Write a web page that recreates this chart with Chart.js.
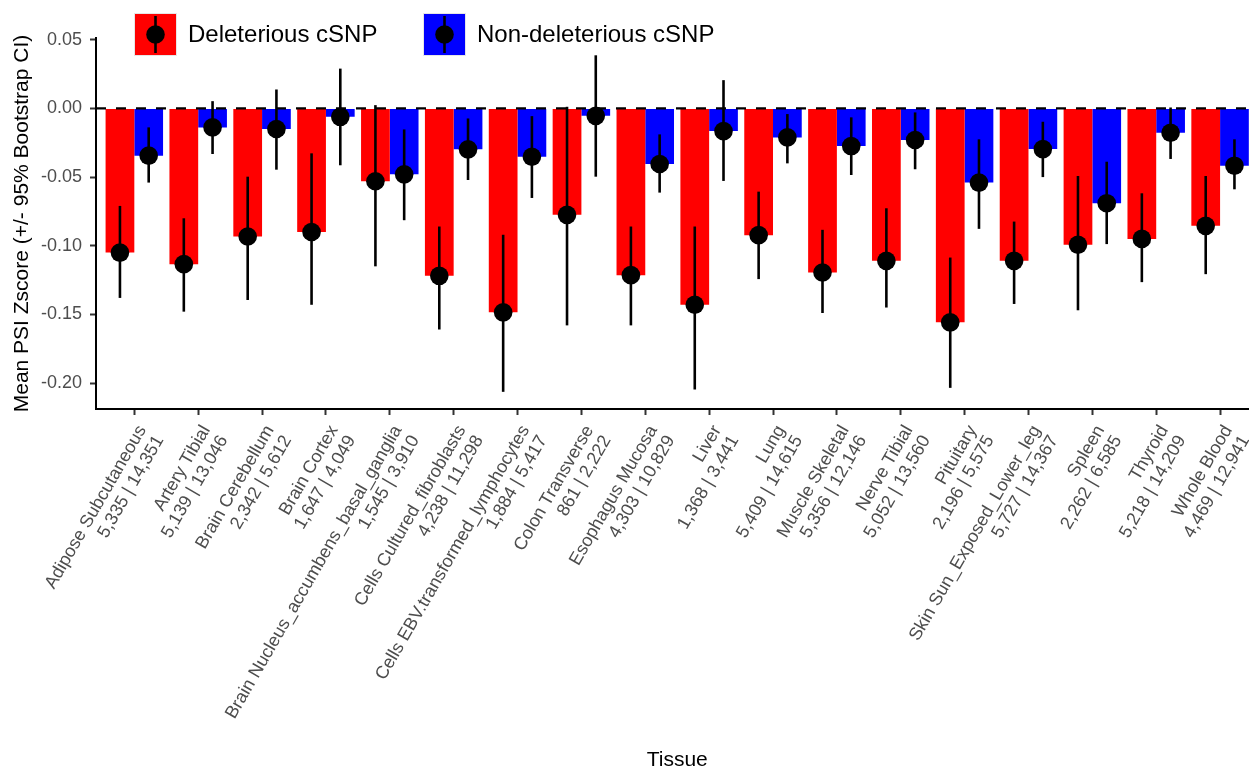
<!DOCTYPE html>
<html>
<head>
<meta charset="utf-8">
<script src="https://cdn.jsdelivr.net/npm/chart.js@4"></script>
<style>
  html, body { margin: 0; padding: 0; background: #fff; }
  #wrap { width: 1249px; height: 769px; overflow: hidden; position: relative; }
  #psiChart { display: block; }
</style>
</head>
<body>
<div id="wrap"><canvas id="psiChart" width="1262" height="769" style="width:1262px;height:769px"></canvas></div>
<script>
// tissues and cSNP counts (deleterious | non-deleterious)
const tissues = [
  'Adipose Subcutaneous', 'Artery Tibial', 'Brain Cerebellum', 'Brain Cortex',
  'Brain Nucleus_accumbens_basal_ganglia', 'Cells Cultured_fibroblasts',
  'Cells EBV.transformed_lymphocytes', 'Colon Transverse', 'Esophagus Mucosa',
  'Liver', 'Lung', 'Muscle Skeletal', 'Nerve Tibial', 'Pituitary',
  'Skin Sun_Exposed_Lower_leg', 'Spleen', 'Thyroid', 'Whole Blood'
]
const delCounts = [5335, 5139, 2342, 1647, 1545, 4238, 1884, 861, 4303, 1368, 5409, 5356, 5052, 2196, 5727, 2262, 5218, 4469]
const nonDelCounts = [14351, 13046, 5612, 4049, 3910, 11298, 5417, 2222, 10829, 3441, 14615, 12146, 13560, 5575, 14367, 6585, 14209, 12941]

// mean PSI z-score with bootstrap 95% CI
const delMean = [-0.105, -0.1134, -0.0933, -0.090, -0.053, -0.1219, -0.1485, -0.0775, -0.1214, -0.143, -0.0923, -0.1195, -0.111, -0.1558, -0.111, -0.0993, -0.095, -0.0855]
const delLow = [-0.138, -0.148, -0.1395, -0.143, -0.115, -0.161, -0.2064, -0.158, -0.158, -0.2047, -0.1243, -0.149, -0.145, -0.2035, -0.1424, -0.147, -0.1265, -0.1207]
const delHigh = [-0.071, -0.080, -0.0497, -0.0327, 0.0024, -0.086, -0.092, 0.0012, -0.086, -0.086, -0.0606, -0.0884, -0.0727, -0.1086, -0.0824, -0.0492, -0.0618, -0.0492]
const nonMean = [-0.0344, -0.0138, -0.015, -0.0061, -0.048, -0.0298, -0.0352, -0.0054, -0.0405, -0.0165, -0.0211, -0.0274, -0.023, -0.054, -0.0296, -0.069, -0.0177, -0.0417]
const nonLow = [-0.054, -0.0332, -0.0446, -0.0414, -0.0814, -0.0521, -0.0652, -0.0497, -0.0613, -0.0528, -0.040, -0.0485, -0.0443, -0.0877, -0.050, -0.0988, -0.0368, -0.0589]
const nonHigh = [-0.0138, 0.0053, 0.0138, 0.029, -0.0153, -0.0073, -0.0056, 0.0387, -0.0189, 0.0206, -0.0041, -0.0065, -0.0029, -0.0225, -0.0097, -0.0388, 0.0007, -0.0225]

const yTicks = [-0.20, -0.15, -0.10, -0.05, 0.00, 0.05]

const fmt = n => n.toLocaleString('en-US')
const toPoints = arr => arr.map((v, i) => ({ x: i, y: v }))

Chart.defaults.font.family = "'Liberation Sans', Arial, Helvetica, sans-serif"

// zero line, error bars and mean points on top of the bars
const errorBars = {
  id: 'errorBars',
  afterDatasetsDraw(chart) {
    const { ctx, chartArea, scales: { y } } = chart
    const zero = y.getPixelForValue(0)
    ctx.save()
    ctx.strokeStyle = '#000'
    ctx.fillStyle = '#000'
    ctx.lineWidth = 2.3
    ctx.setLineDash([10, 10])
    ctx.beginPath()
    ctx.moveTo(chartArea.left, zero)
    ctx.lineTo(chartArea.right, zero)
    ctx.stroke()
    ctx.setLineDash([])
    ctx.lineWidth = 2.6
    chart.data.datasets.forEach((ds, i) => {
      chart.getDatasetMeta(i).data.forEach((bar, j) => {
        const top = y.getPixelForValue(ds.ciHigh[j])
        const bottom = y.getPixelForValue(ds.ciLow[j])
        ctx.beginPath()
        ctx.moveTo(bar.x, top)
        ctx.lineTo(bar.x, bottom)
        ctx.stroke()
        ctx.beginPath()
        ctx.arc(bar.x, bar.y, 9.3, 0, Math.PI * 2)
        ctx.fill()
      })
    })
    ctx.restore()
  }
}

// legend keys: coloured square with point + error bar glyph
const keyLegend = {
  id: 'keyLegend',
  afterDraw(chart) {
    const { ctx } = chart
    const items = [
      { x: 134, textX: 188, ds: chart.data.datasets[0] },
      { x: 423, textX: 477, ds: chart.data.datasets[1] }
    ]
    const top = 13, size = 43
    ctx.save()
    items.forEach(it => {
      ctx.fillStyle = it.ds.backgroundColor
      ctx.fillRect(it.x, top, size, size)
      ctx.strokeStyle = '#e6e6e6'
      ctx.lineWidth = 1
      ctx.strokeRect(it.x + 0.5, top + 0.5, size - 1, size - 1)
      const cx = it.x + size / 2, cy = top + size / 2
      ctx.strokeStyle = '#000'
      ctx.lineWidth = 2.6
      ctx.beginPath()
      ctx.moveTo(cx, top + 3)
      ctx.lineTo(cx, top + size - 3)
      ctx.stroke()
      ctx.fillStyle = '#000'
      ctx.beginPath()
      ctx.arc(cx, cy, 9.3, 0, Math.PI * 2)
      ctx.fill()
      ctx.font = "24px 'Liberation Sans', Arial, sans-serif"
      ctx.textBaseline = 'middle'
      ctx.textAlign = 'left'
      ctx.fillText(it.ds.label, it.textX, cy + 1)
    })
    ctx.restore()
  }
}

const ctx = document.getElementById('psiChart').getContext('2d')
const psiChart = new Chart(ctx, {
  type: 'bar',
  data: {
    datasets: [
      {
        label: 'Deleterious cSNP',
        data: toPoints(delMean),
        ciLow: delLow,
        ciHigh: delHigh,
        backgroundColor: '#FF0000',
        borderWidth: 0,
        categoryPercentage: 0.9,
        barPercentage: 1.0
      },
      {
        label: 'Non-deleterious cSNP',
        data: toPoints(nonMean),
        ciLow: nonLow,
        ciHigh: nonHigh,
        backgroundColor: '#0000FF',
        borderWidth: 0,
        categoryPercentage: 0.9,
        barPercentage: 1.0
      }
    ]
  },
  options: {
    responsive: false,
    animation: false,
    layout: { padding: { top: 38, right: 0, left: 0, bottom: 0 } },
    plugins: {
      legend: { display: false },
      tooltip: { enabled: false }
    },
    scales: {
      x: {
        type: 'linear',
        min: -0.6,
        max: tissues.length - 0.4,
        offset: false,
        afterFit(scale) { scale.height = 360 },
        border: { display: true, color: '#000', width: 2 },
        grid: { drawOnChartArea: false, offset: false, tickLength: 6, tickColor: '#333', tickWidth: 2 },
        ticks: {
          stepSize: 1,
          maxTicksLimit: 50,
          includeBounds: false,
          autoSkip: false,
          maxRotation: 60,
          minRotation: 60,
          padding: 7,
          labelOffset: 8,
          color: '#4D4D4D',
          font: { size: 18, lineHeight: 1.12 },
          callback: v => Number.isInteger(v) && tissues[v]
            ? [tissues[v], fmt(delCounts[v]) + ' | ' + fmt(nonDelCounts[v])]
            : ''
        },
        title: {
          display: true,
          text: 'Tissue',
          color: '#000',
          font: { size: 21, lineHeight: 0.85 },
          padding: { top: 0, bottom: 0 }
        }
      },
      y: {
        min: -0.2189,
        max: 0.0513,
        afterFit(scale) { scale.width = 96 },
        afterBuildTicks(scale) { scale.ticks = yTicks.map(v => ({ value: v })) },
        border: { display: true, color: '#000', width: 2 },
        grid: { drawOnChartArea: false, tickLength: 6, tickColor: '#333', tickWidth: 2 },
        ticks: {
          padding: 8,
          color: '#4D4D4D',
          font: { size: 18 },
          callback: v => (Math.abs(v) < 1e-9 ? 0 : v).toFixed(2)
        },
        title: {
          display: true,
          text: 'Mean PSI Zscore (+/- 95% Bootstrap CI)',
          color: '#000',
          font: { size: 21 },
          padding: { top: 10, bottom: 0 }
        }
      }
    }
  },
  plugins: [errorBars, keyLegend]
})
</script>
</body>
</html>
